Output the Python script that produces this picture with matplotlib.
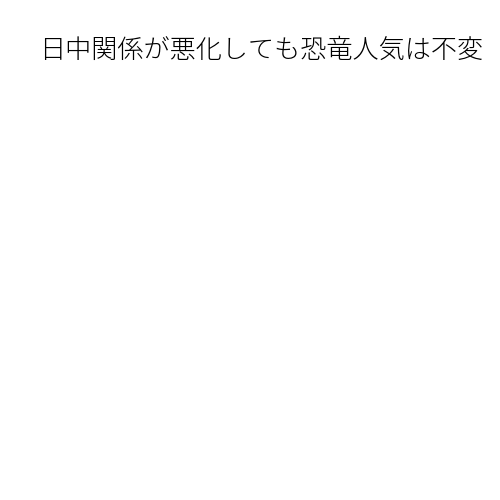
import matplotlib.pyplot as plt

plt.rcParams['font.family'] = ['Noto Sans CJK JP', 'DejaVu Sans']

# Chart text (the reference shows only its title, no marks)
title = '日中関係が悪化しても恐竜人気は不変'
categories = []
values = []

fig = plt.figure(figsize=(5, 5), dpi=100)
ax = fig.add_axes([0.05, 0.05, 0.9, 0.8])
ax.bar(categories, values)
ax.set_axis_off()

fig.text(0.523, 0.899, title, fontsize=18.8, fontweight='light',
         ha='center', va='center', color='black')

fig.savefig('out.png', dpi=100, facecolor='white')
